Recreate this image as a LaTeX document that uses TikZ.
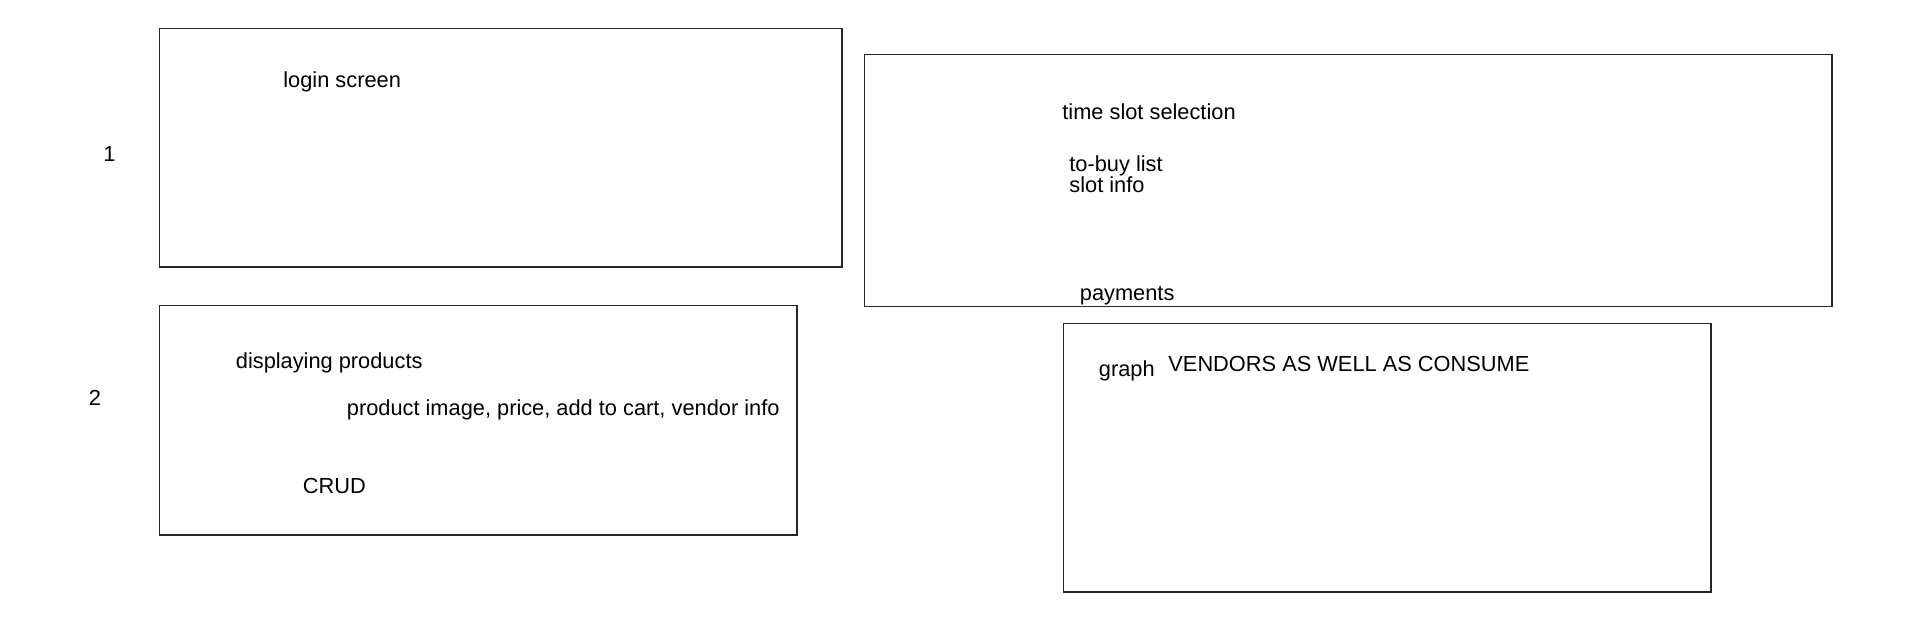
\documentclass[tikz,border=0pt]{standalone}
\usepackage{fontspec}
\setmainfont{Liberation Sans}
\usepackage{tikz}
\usetikzlibrary{positioning}

\begin{document}
\begin{tikzpicture}[x=0.5pt, y=-0.5pt]
      \tikzstyle{screen} = [draw=black!85, line width=0.75pt]
      \tikzstyle{note} = [font=\fontsize{10.9}{13}\selectfont, color=black, anchor=base west, inner sep=0pt]
      \useasboundingbox (0,0) rectangle (1920,620);
      % screens
      \draw [screen] (159.5,28.5) rectangle (842,267);
      \draw [screen] (864.5,54.5) rectangle (1832,306.5);
      \draw [screen] (159.5,305.5) rectangle (797,535);
      \draw [screen] (1063.5,323.5) rectangle (1711,592);
      % row numbers
      \node (rowone) [note] at (103,162) {1};
      \node (rowtwo) [note] at (88.5,405.5) {2};
      % first row
      \node (login) [note] at (283,87.5) {login screen};
      \node (timeslot) [note] at (1062,120) {time slot selection};
      \node (tobuy) [note] at (1069,171.5) {to-buy list};
      \node (slotinfo) [note] at (1069,193) {slot info};
      \node (payments) [note] at (1079.5,300) {payments};
      % second row
      \node (displaying) [note] at (235.5,368) {displaying products};
      \node (productinfo) [note] at (346.5,415.5) {product image, price, add to cart, vendor info};
      \node (crud) [note] at (302.5,493) {CRUD};
      \node (graph) [note] at (1098.5,376) {graph};
      \node (vendors) [note] at (1168,371.5) {VENDORS AS WELL AS CONSUME};
    \end{tikzpicture}
\end{document}
